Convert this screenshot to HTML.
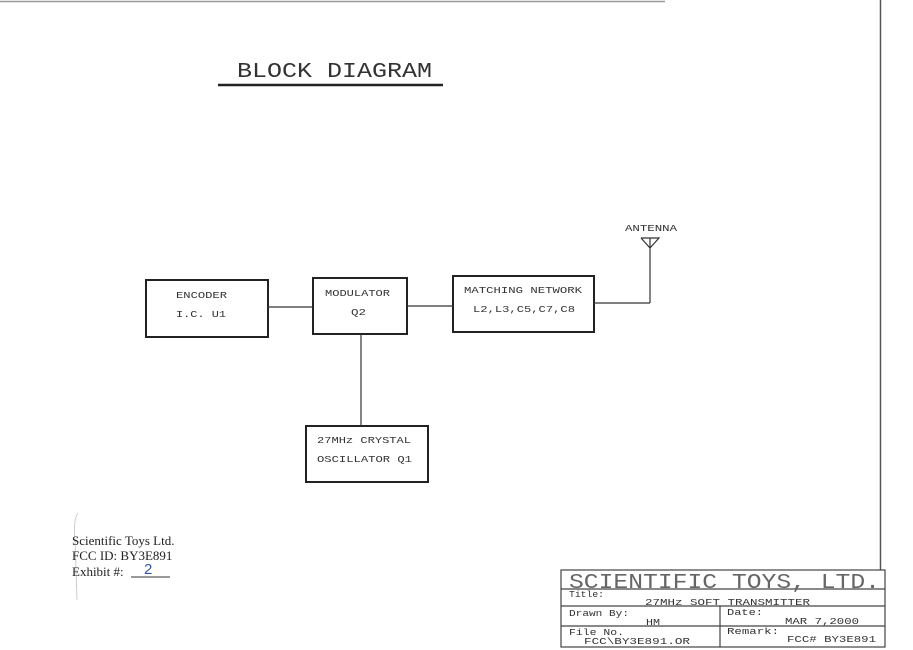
<!DOCTYPE html>
<html><head><meta charset="utf-8"><style>
html,body{margin:0;padding:0;background:#fff;width:913px;height:650px;overflow:hidden}
svg{display:block}
.m{font-family:"Liberation Mono",monospace;fill:#333}
.s{font-family:"Liberation Serif",serif;fill:#222}
</style></head><body>
<svg width="913" height="650" viewBox="0 0 913 650" xmlns="http://www.w3.org/2000/svg">
<line x1="0" y1="1.5" x2="665" y2="1.5" stroke="#999" stroke-width="1.5"/>
<line x1="880.5" y1="0" x2="880.5" y2="570" stroke="#555" stroke-width="1.5"/>
<text x="237" y="77" class="m" font-size="21" textLength="195" lengthAdjust="spacingAndGlyphs" fill="#666">BLOCK DIAGRAM</text>
<line x1="218" y1="85" x2="443" y2="85" stroke="#222" stroke-width="2.5"/>
<g fill="none" stroke="#222" stroke-width="2">
<rect x="146" y="280" width="122" height="57"/>
<rect x="313" y="278" width="94" height="56"/>
<rect x="453" y="276" width="141" height="56"/>
<rect x="306" y="426" width="122" height="56"/>
</g>
<g stroke="#333" stroke-width="1.2" fill="none">
<line x1="268" y1="307" x2="313" y2="307"/>
<line x1="407" y1="306" x2="453" y2="306"/>
<line x1="594" y1="303" x2="650" y2="303"/>
<line x1="650" y1="303" x2="650" y2="238"/>
<polyline points="641,238 659,238 650,248 641,238"/>
<line x1="361" y1="334" x2="361" y2="426"/>
</g>
<text x="625" y="231" class="m" font-size="9" textLength="52" lengthAdjust="spacingAndGlyphs">ANTENNA</text>
<g class="m" font-size="9.5">
<text x="176" y="298" textLength="51" lengthAdjust="spacingAndGlyphs">ENCODER</text>
<text x="176" y="317" textLength="50" lengthAdjust="spacingAndGlyphs">I.C. U1</text>
<text x="325" y="296" textLength="65" lengthAdjust="spacingAndGlyphs">MODULATOR</text>
<text x="351" y="315" textLength="15" lengthAdjust="spacingAndGlyphs">Q2</text>
<text x="464" y="293" textLength="118" lengthAdjust="spacingAndGlyphs">MATCHING NETWORK</text>
<text x="473" y="312" textLength="102" lengthAdjust="spacingAndGlyphs">L2,L3,C5,C7,C8</text>
<text x="317" y="443" textLength="94" lengthAdjust="spacingAndGlyphs">27MHz CRYSTAL</text>
<text x="317" y="462" textLength="95" lengthAdjust="spacingAndGlyphs">OSCILLATOR Q1</text>
</g>
<path d="M78 513 Q73 520 75 540 L77 600" stroke="#ccc" fill="none" stroke-width="1"/>
<g class="s" font-size="13">
<text x="72" y="545">Scientific Toys Ltd.</text>
<text x="72" y="560">FCC ID:  BY3E891</text>
<text x="72" y="576">Exhibit #:</text>
</g>
<line x1="131" y1="577" x2="170" y2="577" stroke="#333" stroke-width="1"/>
<text x="144" y="574" font-family="Liberation Sans,sans-serif" font-size="15" fill="#3355aa">2</text>
<g stroke="#444" stroke-width="1.2" fill="none">
<rect x="561" y="570" width="324" height="77"/>
<line x1="561" y1="589" x2="885" y2="589"/>
<line x1="561" y1="606" x2="885" y2="606"/>
<line x1="561" y1="626" x2="885" y2="626"/>
<line x1="720" y1="606" x2="720" y2="647"/>
</g>
<g class="m">
<text x="569" y="588" font-size="21" textLength="311" lengthAdjust="spacingAndGlyphs" fill="#666">SCIENTIFIC TOYS, LTD.</text>
<text x="569" y="597" font-size="9" textLength="35" lengthAdjust="spacingAndGlyphs">Title:</text>
<text x="645" y="605" font-size="9" textLength="165" lengthAdjust="spacingAndGlyphs">27MHz SOFT TRANSMITTER</text>
<text x="569" y="616" font-size="9" textLength="60" lengthAdjust="spacingAndGlyphs">Drawn By:</text>
<text x="646" y="625" font-size="9" textLength="14" lengthAdjust="spacingAndGlyphs">HM</text>
<text x="727" y="615" font-size="9" textLength="36" lengthAdjust="spacingAndGlyphs">Date:</text>
<text x="785" y="624" font-size="9" textLength="74" lengthAdjust="spacingAndGlyphs">MAR 7,2000</text>
<text x="569" y="635" font-size="9" textLength="55" lengthAdjust="spacingAndGlyphs">File No.</text>
<text x="584" y="644" font-size="9" textLength="106" lengthAdjust="spacingAndGlyphs">FCC\BY3E891.OR</text>
<text x="727" y="634" font-size="9" textLength="52" lengthAdjust="spacingAndGlyphs">Remark:</text>
<text x="787" y="642" font-size="9" textLength="89" lengthAdjust="spacingAndGlyphs">FCC# BY3E891</text>
</g>
</svg>
</body></html>
